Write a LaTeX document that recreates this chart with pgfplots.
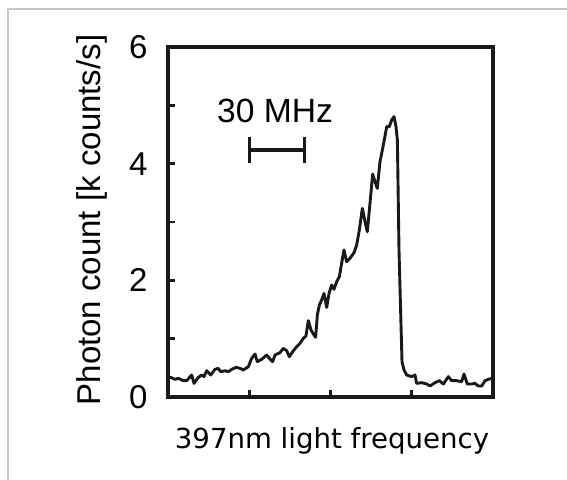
\documentclass[border=0pt]{standalone}
\usepackage{fontspec}
\setmainfont{Liberation Sans}
\newfontfamily\xfont{DejaVu Sans}
\usepackage{pgfplots}
\pgfplotsset{compat=1.18}
\begin{document}
\begin{tikzpicture}
\useasboundingbox (0,0) rectangle (283.5pt,239.5pt);
\clip (0,0) rectangle (283.5pt,239.5pt);
\draw[line width=1pt, color=black!22] (3.75pt,-10pt) -- (3.75pt,235.25pt) -- (300pt,235.25pt);
\begin{axis}[
 at={(84pt,41pt)}, anchor=south west,
 scale only axis, width=162.5pt, height=175pt,
 xmin=0, xmax=4, ymin=0, ymax=6,
 xtick={1,2,3}, xticklabels={},
 ytick={0,1,2,3,4,5,6}, yticklabels={0,,2,,4,,6},
 tick align=inside, tick pos=left, major tick length=3.5pt,
 axis line style={line width=1.6pt, black!90},
 every tick/.style={line width=1.3pt, black!90},
 tick label style={font=\fontsize{16.5}{19}\selectfont},
 yticklabel style={inner sep=0pt, xshift=-10pt},
 /pgf/number format/assume math mode=true,
 clip=false,
]
\addplot[line width=1.45pt, black!90, line join=round] coordinates {
(0.010,0.337) (0.033,0.337) (0.086,0.303) (0.127,0.320) (0.189,0.280) (0.230,0.280)
(0.291,0.377) (0.320,0.234) (0.373,0.337) (0.414,0.377) (0.443,0.349) (0.476,0.451)
(0.525,0.377) (0.578,0.474) (0.619,0.491) (0.648,0.434) (0.702,0.451) (0.743,0.434)
(0.784,0.474) (0.837,0.509) (0.886,0.491) (0.927,0.463) (0.989,0.520) (1.030,0.663)
(1.071,0.737) (1.099,0.606) (1.153,0.646) (1.214,0.720) (1.247,0.663) (1.288,0.606)
(1.317,0.720) (1.378,0.760) (1.419,0.834) (1.461,0.794) (1.493,0.691) (1.534,0.777)
(1.584,0.863) (1.625,0.920) (1.666,1.006) (1.698,1.046) (1.727,1.309) (1.760,1.149)
(1.789,1.080) (1.817,1.023) (1.838,1.406) (1.863,1.577) (1.891,1.663) (1.920,1.777)
(1.953,1.537) (1.982,1.777) (2.014,1.920) (2.043,1.846) (2.076,1.977) (2.109,2.063)
(2.137,2.291) (2.166,2.520) (2.199,2.320) (2.240,2.377) (2.289,2.474) (2.322,2.606)
(2.355,2.863) (2.392,3.234) (2.425,3.006) (2.453,2.834) (2.486,3.320) (2.519,3.823)
(2.548,3.691) (2.576,3.577) (2.609,4.034) (2.642,4.263) (2.671,4.474) (2.691,4.634)
(2.724,4.634) (2.753,4.749) (2.782,4.806) (2.806,4.634) (2.823,4.406) (2.843,2.520)
(2.880,0.605) (2.905,0.463) (2.938,0.377) (2.999,0.349) (3.040,0.377) (3.060,0.234)
(3.122,0.246) (3.184,0.223) (3.225,0.189) (3.286,0.246) (3.340,0.280) (3.389,0.223)
(3.450,0.349) (3.491,0.280) (3.553,0.280) (3.614,0.263) (3.643,0.394) (3.684,0.223)
(3.737,0.223) (3.778,0.234) (3.819,0.189) (3.861,0.189) (3.902,0.280) (3.943,0.303)
(3.984,0.320)
};
\draw[line width=1.7pt, black!90] (axis cs:1,4.234) -- (axis cs:1.674,4.234);
\draw[line width=1.5pt, black!90] (axis cs:1,4.011) -- (axis cs:1,4.457);
\draw[line width=1.5pt, black!90] (axis cs:1.674,4.011) -- (axis cs:1.674,4.457);
\node[font=\fontsize{16.8}{19}\selectfont] at (axis cs:1.317,4.903) {30 MHz};
\end{axis}
\node[rotate=90, anchor=base, inner sep=0pt, font=\fontsize{16.5}{19}\selectfont] at (50pt,129.5pt) {Photon count [k counts/s]};
\node[anchor=base, inner sep=0pt, font=\xfont\fontsize{13.8}{16}\selectfont] at (166pt,15.5pt) {397nm light frequency};
\end{tikzpicture}
\end{document}
